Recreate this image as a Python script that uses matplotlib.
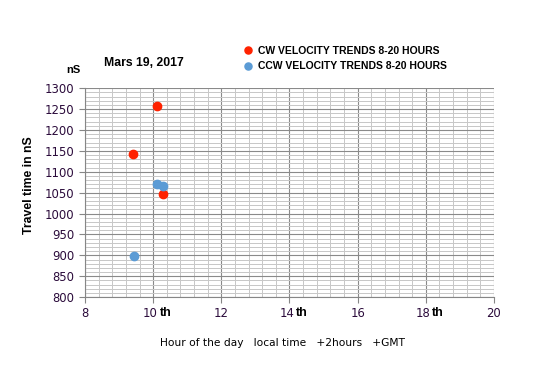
import matplotlib.pyplot as plt
from matplotlib.ticker import MultipleLocator

# data
cwHours = [10.1, 9.42, 10.3]
cwTimes = [1257, 1143, 1047]
ccwHours = [10.1, 10.3, 9.44]
ccwTimes = [1071, 1066, 898]

xTicks = [8, 10, 12, 14, 16, 18, 20]
xTickNums = ["8", "10", "12", "14", "16", "18", "20"]
xTickSuffix = ["", "th", "", "th", "", "th", ""]
yTicks = list(range(800, 1301, 50))

fig = plt.figure(figsize=(5.5, 3.8), dpi=100)
ax = fig.add_axes([0.1545, 0.218, 0.7436, 0.550])

ax.set_xlim(8, 20)
ax.set_ylim(800, 1300)
ax.xaxis.set_major_locator(MultipleLocator(2))
ax.xaxis.set_minor_locator(MultipleLocator(0.4))
ax.yaxis.set_major_locator(MultipleLocator(50))
ax.yaxis.set_minor_locator(MultipleLocator(10))

# grid lines
ax.grid(which="minor", color="#c8c8c8", linewidth=0.72)
ax.grid(which="major", color="#8a8a8a", linewidth=0.8)
ax.set_axisbelow(True)

for side in ["top", "right"]:
    ax.spines[side].set_visible(False)
for side in ["left", "bottom"]:
    ax.spines[side].set_color("#868686")

ax.tick_params(which="minor", length=0)
ax.tick_params(which="major", length=4, color="#868686", labelsize=8.4,
               labelcolor="#2b0b3b")
ax.set_yticks(yTicks)
ax.set_yticklabels([str(v) for v in yTicks], family="DejaVu Sans")
ax.set_xticks(xTicks)
ax.set_xticklabels([])

# x tick labels: number plus bold "th"
for x, num, suf in zip(xTicks, xTickNums, xTickSuffix):
    if suf:
        ax.annotate(num, xy=(x, 800), xytext=(3.5, -11.5), textcoords="offset points",
                    ha="right", va="center", fontsize=8.4, color="#2b0b3b",
                    family="DejaVu Sans", annotation_clip=False)
        ax.annotate(suf, xy=(x, 800), xytext=(4.5, -11.5), textcoords="offset points",
                    ha="left", va="center", fontsize=9, fontweight="bold",
                    color="black", family="Liberation Sans", annotation_clip=False)
    else:
        ax.annotate(num, xy=(x, 800), xytext=(0, -11.5), textcoords="offset points",
                    ha="center", va="center", fontsize=8.4, color="#2b0b3b",
                    family="DejaVu Sans", annotation_clip=False)

# points
ax.plot(cwHours, cwTimes, "o", color="#ff2200", markersize=6, linestyle="none", zorder=3,
        label="CW VELOCITY TRENDS 8-20 HOURS")
ax.plot(ccwHours, ccwTimes, "o", color="#5b9bd5", markersize=6, linestyle="none", zorder=3,
        label="CCW VELOCITY TRENDS 8-20 HOURS")

ax.legend(loc="lower left", bbox_to_anchor=(0.366, 1.046), frameon=False,
          prop={"family": "Liberation Sans", "weight": "bold", "size": 7.5},
          handletextpad=0.3, labelspacing=0.55, borderpad=0.2, handlelength=1.2,
          markerscale=0.85)

# texts
fig.text(0.262, 0.835, "Mars 19, 2017", fontsize=8.8, fontweight="bold",
         family="Liberation Sans", ha="center", va="center")
fig.text(0.133, 0.815, "nS", fontsize=8, fontweight="bold",
         family="Liberation Sans", ha="center", va="center")
fig.text(0.053, 0.513, "Travel time in nS", fontsize=8.8, fontweight="bold",
         family="Liberation Sans", rotation=90, ha="center", va="center")
fig.text(0.513, 0.097, "Hour of the day   local time   +2hours   +GMT", fontsize=7.7,
         family="DejaVu Sans", ha="center", va="center")

fig.savefig("out.png", dpi=100)
